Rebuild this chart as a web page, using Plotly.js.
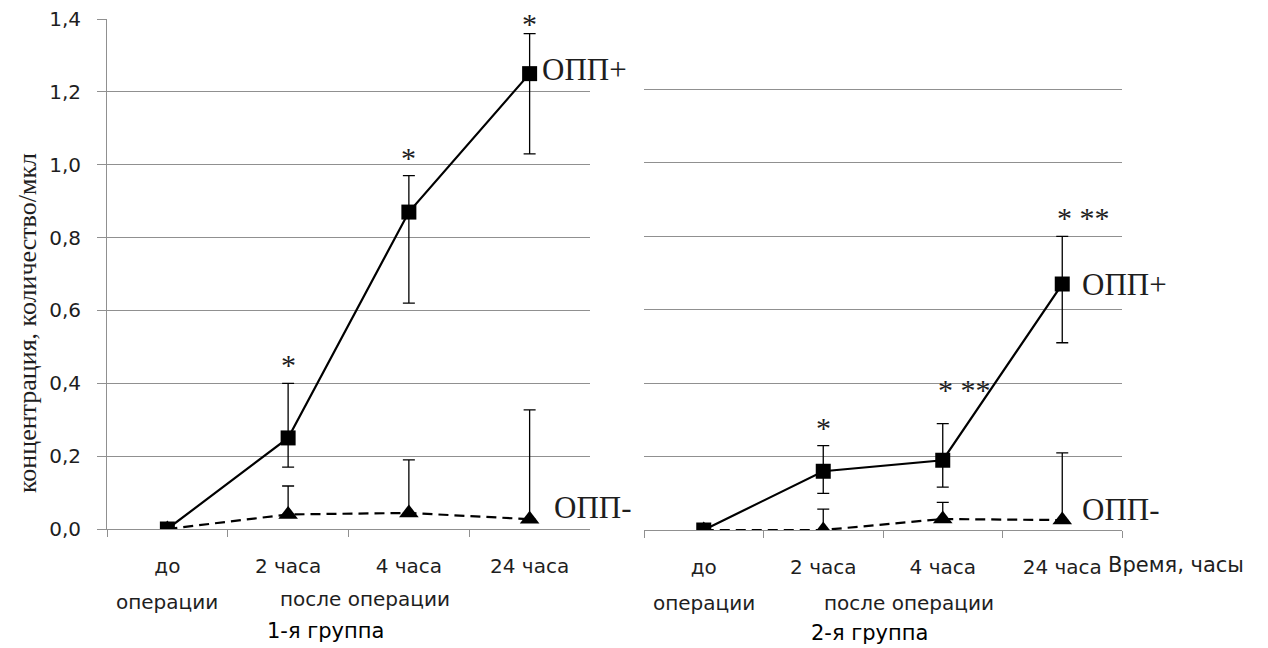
<!DOCTYPE html>
<html><head><meta charset="utf-8">
<script src="https://cdn.plot.ly/plotly-3.0.1.min.js"></script>
<style>html,body{margin:0;padding:0;background:#fff}</style>
</head><body><div id="chart" style="width:1268px;height:648px"></div>
<script>
// ---- data ----
const categories = ["до операции", "2 часа", "4 часа", "24 часа"];
const tickLabels = ["до", "2 часа", "4 часа", "24 часа"];
const yTicks = [0, 0.2, 0.4, 0.6, 0.8, 1.0, 1.2, 1.4];

// 1-я группа
const g1Plus = [0, 0.25, 0.87, 1.25];
const g1PlusErrUp = [NaN, 0.15, 0.10, 0.11];
const g1PlusErrDown = [NaN, 0.08, 0.25, 0.22];
const g1Minus = [0, 0.04, 0.044, 0.027];
const g1MinusErrUp = [NaN, 0.078, 0.146, 0.30];
const g1Sig = ["", "*", "*", "*"];

// 2-я группа
const g2Plus = [0, 0.16, 0.19, 0.67];
const g2PlusErrUp = [NaN, 0.07, 0.10, 0.13];
const g2PlusErrDown = [NaN, 0.06, 0.073, 0.16];
const g2Minus = [0, 0, 0.03, 0.027];
const g2MinusErrUp = [NaN, 0.057, 0.045, 0.183];
const g2Sig = ["", "*", "* **", "* **"];

const seriesNames = ["ОПП+", "ОПП-"];
const zeros = [0, 0, 0, 0];

// ---- layout helpers ----
const W = 1268, H = 648;
const px = v => v / W, py = v => 1 - v / H;
const GRID = '#909090';
const TXT = '#1e1e1e';
const sans = '"DejaVu Sans", "Liberation Sans", sans-serif';
const serif = '"Liberation Serif", "DejaVu Serif", serif';

function plusTrace(y, up, down, xa, ya) {
  return {
    x: categories, y: y, xaxis: xa, yaxis: ya, type: 'scatter', mode: 'lines+markers',
    name: seriesNames[0],
    line: {color: '#000', width: 2.2},
    marker: {symbol: 'square', size: 15, color: '#000'},
    error_y: {type: 'data', symmetric: false, array: up, arrayminus: down, color: '#000', thickness: 1.3, width: 6}
  };
}
function minusTrace(y, up, xa, ya) {
  return {
    x: categories, y: y, xaxis: xa, yaxis: ya, type: 'scatter', mode: 'lines+markers',
    name: seriesNames[1],
    line: {color: '#000', width: 2.2, dash: '10px,6px'},
    marker: {symbol: 'triangle-up', size: 17, color: '#000'},
    error_y: {type: 'data', symmetric: false, array: up, arrayminus: zeros, color: '#000', thickness: 1.3, width: 6}
  };
}

const data = [
  minusTrace(g1Minus, g1MinusErrUp, 'x', 'y'),
  plusTrace(g1Plus, g1PlusErrUp, g1PlusErrDown, 'x', 'y'),
  minusTrace(g2Minus, g2MinusErrUp, 'x2', 'y2'),
  plusTrace(g2Plus, g2PlusErrUp, g2PlusErrDown, 'x2', 'y2')
];

function xAxis(domain, anchor) {
  return {
    domain: domain, anchor: anchor, type: 'category', range: [-0.5, 3.5],
    tickmode: 'array', tickvals: categories, ticktext: tickLabels,
    tickson: 'boundaries', ticks: 'outside', ticklen: 7, tickcolor: GRID, tickwidth: 1,
    showline: true, linecolor: GRID, linewidth: 1, showgrid: false, zeroline: false,
    tickfont: {family: sans, size: 20, color: TXT}, ticklabelstandoff: 19, fixedrange: true
  };
}

function sigAnnotations(sig, tops, xa, ya, shifts) {
  const out = [];
  sig.forEach((s, i) => {
    if (!s) return;
    out.push({
      x: categories[i], y: tops[i], xref: xa, yref: ya, text: s, showarrow: false,
      xanchor: s.length > 1 ? 'left' : 'center', xshift: s.length > 1 ? -7 : 0,
      yanchor: 'bottom', yshift: shifts[i],
      font: {family: serif, size: 30, color: TXT}
    });
  });
  return out;
}
const g1Tops = g1Plus.map((v, i) => v + (g1PlusErrUp[i] || 0));
const g2Tops = g2Plus.map((v, i) => v + (g2PlusErrUp[i] || 0));

const labelFont = {family: serif, size: 31, color: TXT};
const axFont = {family: sans, size: 20, color: TXT};
const grpFont = {family: sans, size: 21, color: '#000'};
function note(xref, x, yPix, text, font, xanchor) {
  return {xref: xref, yref: 'paper', x: x, y: py(yPix), text: text, showarrow: false,
          xanchor: xanchor || 'center', yanchor: 'middle', font: font};
}
const annotations = [
  {xref: 'paper', yref: 'paper', x: px(27), y: py(323), xanchor: 'center', yanchor: 'middle',
   text: 'концентрация, количество/мкл', textangle: -90,
   showarrow: false, font: {family: serif, size: 26, color: TXT}},
  // series labels
  {xref: 'x', yref: 'y', x: categories[3], y: g1Plus[3], text: seriesNames[0], showarrow: false, xanchor: 'left', yanchor: 'middle', xshift: 10, yshift: 4, font: labelFont},
  {xref: 'x', yref: 'y', x: categories[3], y: g1Minus[3], text: seriesNames[1], showarrow: false, xanchor: 'left', yanchor: 'middle', xshift: 22, yshift: 12, font: labelFont},
  {xref: 'x2', yref: 'y2', x: categories[3], y: g2Plus[3], text: seriesNames[0], showarrow: false, xanchor: 'left', yanchor: 'middle', xshift: 18, yshift: 0, font: labelFont},
  {xref: 'x2', yref: 'y2', x: categories[3], y: g2Minus[3], text: seriesNames[1], showarrow: false, xanchor: 'left', yanchor: 'middle', xshift: 18, yshift: 11, font: labelFont},
  // second-line category text
  note('x', categories[0], 602, 'операции', axFont),
  note('x', 1.64, 599, 'после операции', axFont),
  note('x', 1.31, 631, '1-я группа', grpFont),
  note('x2', categories[0], 603, 'операции', axFont),
  note('x2', 1.72, 603, 'после операции', axFont),
  note('x2', 1.39, 633, '2-я группа', grpFont),
  note('paper', px(1106), 565, 'Время, часы', {family: sans, size: 21, color: TXT}, 'left')
].concat(
  sigAnnotations(g1Sig, g1Tops, 'x', 'y', [0, 0, 0, -8]),
  sigAnnotations(g2Sig, g2Tops, 'x2', 'y2', [0, 0, 16, 0])
);

const layout = {
  width: W, height: H, margin: {l: 0, r: 0, t: 0, b: 0},
  paper_bgcolor: '#fff', plot_bgcolor: 'rgba(0,0,0,0)',
  showlegend: false, separators: ', ',
  xaxis: xAxis([px(107), px(590)], 'y'),
  xaxis2: xAxis([px(644), px(1122)], 'y2'),
  yaxis: {
    domain: [py(529), py(19)], range: [0, 1.4], tickmode: 'array', tickvals: yTicks, tickformat: '.1f',
    showgrid: true, gridcolor: GRID, gridwidth: 1, zeroline: false,
    showline: true, linecolor: GRID, linewidth: 1,
    ticks: 'outside', ticklen: 9, tickcolor: GRID,
    tickfont: {family: sans, size: 20, color: TXT}, ticklabelstandoff: 12, fixedrange: true
  },
  yaxis2: {
    domain: [py(530), py(16)], range: [0, 1.4], tickmode: 'array', tickvals: yTicks,
    showgrid: true, gridcolor: GRID, gridwidth: 1, zeroline: false, showline: false,
    showticklabels: false, ticks: '', fixedrange: true
  },
  annotations: annotations
};

Plotly.newPlot('chart', data, layout, {displayModeBar: false, staticPlot: true});
</script>
</body></html>
